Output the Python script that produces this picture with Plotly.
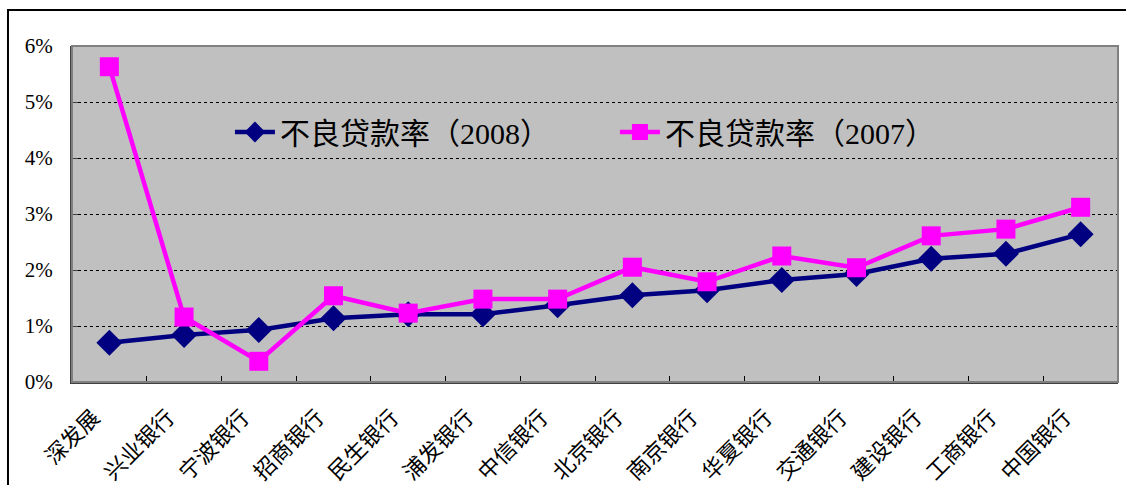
import plotly.graph_objects as go

banks = ["深发展", "兴业银行", "宁波银行", "招商银行", "民生银行", "浦发银行", "中信银行",
         "北京银行", "南京银行", "华夏银行", "交通银行", "建设银行", "工商银行", "中国银行"]
npl_2008 = [0.70, 0.84, 0.93, 1.14, 1.21, 1.21, 1.37, 1.55, 1.64, 1.82, 1.93, 2.20, 2.29, 2.64]
npl_2007 = [5.63, 1.16, 0.37, 1.54, 1.23, 1.48, 1.48, 2.05, 1.79, 2.25, 2.04, 2.61, 2.73, 3.12]
y_ticks = [0, 1, 2, 3, 4, 5, 6]

FONT = "Liberation Serif, Noto Sans CJK SC"

fig = go.Figure()
fig.add_trace(go.Scatter(
    x=banks, y=npl_2008, mode="lines+markers", name="不良贷款率（2008）",
    line=dict(color="#000080", width=4.5),
    marker=dict(symbol="diamond", size=20, color="#000080"),
))
fig.add_trace(go.Scatter(
    x=banks, y=npl_2007, mode="lines+markers", name="不良贷款率（2007）",
    line=dict(color="#FF00FF", width=4.5),
    marker=dict(symbol="square", size=19, color="#FF00FF"),
))

# outer chart frame
fig.add_shape(type="rect", xref="paper", yref="paper",
              x0=-0.0612, x1=1.3, y0=-0.6, y1=1.107,
              line=dict(color="#000000", width=2), fillcolor="rgba(0,0,0,0)", layer="below")
# plot frame top/right
fig.add_shape(type="rect", xref="paper", yref="paper", x0=0, x1=1, y0=0, y1=1,
              line=dict(color="#808080", width=2), fillcolor="rgba(0,0,0,0)")

fig.update_layout(
    width=1126, height=485,
    margin=dict(l=72, r=8, t=46, b=103, autoexpand=False),
    paper_bgcolor="white", plot_bgcolor="#C0C0C0",
    font=dict(family=FONT, color="#000000"),
    showlegend=True,
    legend=dict(orientation="h", x=0.151, y=0.744, xanchor="left", yanchor="middle",
                bgcolor="rgba(0,0,0,0)", font=dict(size=30, family=FONT),
                itemwidth=40, entrywidth=330, entrywidthmode="pixels"),
    xaxis=dict(
        type="category", tickangle=-45, tickfont=dict(size=22, family=FONT),
        showgrid=False, ticks="inside", tickson="boundaries", ticklen=6,
        tickcolor="#000000", showline=True, linecolor="#404040", linewidth=2,
        range=[-0.5, len(banks) - 0.5], zeroline=False, automargin=False,
        ticklabelshift=-16, ticklabelstandoff=12,
    ),
    yaxis=dict(
        range=[0, 6], tickvals=y_ticks, ticktext=[f"{v}%" for v in y_ticks],
        tickfont=dict(size=21, family="Liberation Serif"), showgrid=True,
        gridcolor="#000000", gridwidth=1, griddash="dot",
        showline=True, linecolor="#404040", linewidth=2,
        ticks="inside", ticklen=6, tickcolor="#404040", zeroline=False,
        ticklabelstandoff=13, automargin=False,
    ),
)

fig.write_html("out.html")
